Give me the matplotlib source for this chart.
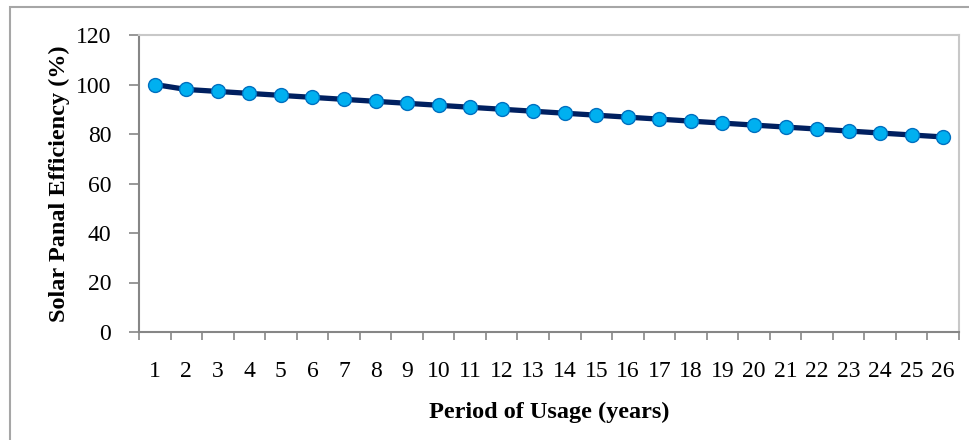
import matplotlib.pyplot as plt
from matplotlib.patches import Rectangle

# Solar panel efficiency over years of use
years = list(range(1, 27))
efficiency = [100, 98, 97.2, 96.4, 95.6, 94.8, 94.0, 93.2, 92.4, 91.6,
              90.8, 90.0, 89.2, 88.4, 87.6, 86.8, 86.0, 85.2, 84.4, 83.6,
              82.8, 82.0, 81.2, 80.4, 79.6, 78.8]
y_ticks = [0, 20, 40, 60, 80, 100, 120]

plt.rcParams['font.family'] = ['Liberation Serif', 'DejaVu Serif']

fig = plt.figure(figsize=(9.69, 4.4), dpi=100)
ax = fig.add_axes([139 / 969, 1 - 332 / 440, (959 - 139) / 969, (332 - 35) / 440])

# outer chart border
fig.patches.append(Rectangle((10 / 969, -0.05), 1.1, 1 - 7 / 440 + 0.05,
                             transform=fig.transFigure, fill=False,
                             edgecolor='#a6a6a6', linewidth=1.5))

ax.plot(years, efficiency, color='#002060', linewidth=3.8, marker='o',
        markersize=10, markerfacecolor='#00b0f0', markeredgecolor='#0070c0',
        markeredgewidth=1.0, zorder=3)

ax.set_xlim(0.5, 26.5)
ax.set_ylim(0, 120)
ax.set_yticks(y_ticks)
ax.set_xticks(years)
ax.set_xticks([y + 0.5 for y in range(0, 27)], minor=True)
ax.tick_params(axis='x', which='major', length=0, labelsize=17, pad=21)
ax.tick_params(axis='x', which='minor', length=6, color='#868686', width=1.2)
ax.tick_params(axis='y', length=7, color='#868686', width=1.2, labelsize=17, pad=13)

for side in ['left', 'bottom']:
    ax.spines[side].set_color('#868686')
    ax.spines[side].set_linewidth(1.5)
for side in ['top', 'right']:
    ax.spines[side].set_color('#c8c8c8')
    ax.spines[side].set_linewidth(1.5)

ax.set_xlabel('Period of Usage (years)', fontsize=17.5, fontweight='bold', labelpad=14)
ax.set_ylabel('Solar Panal Efficiency (%)', fontsize=17.5, fontweight='bold', labelpad=4)

plt.savefig('out.png', dpi=100)
